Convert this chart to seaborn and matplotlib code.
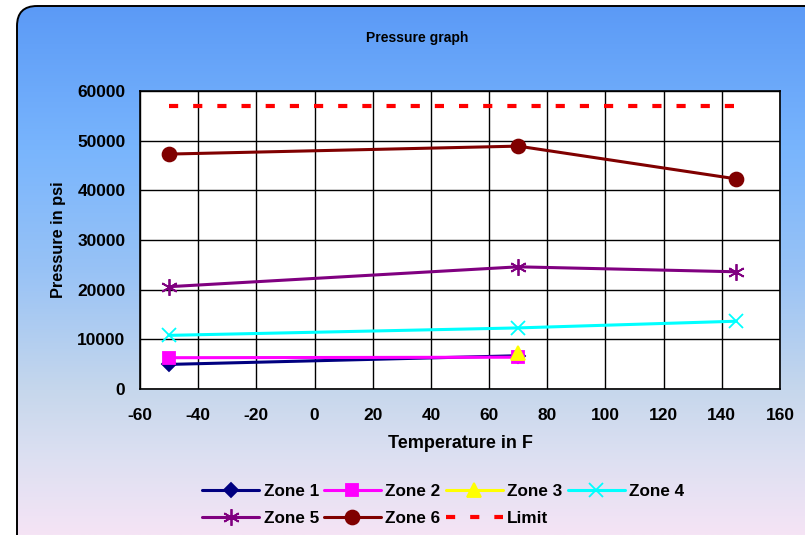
import numpy as np
import pandas as pd
import matplotlib
matplotlib.use('Agg')
from matplotlib import pyplot as plt
from matplotlib.patches import FancyBboxPatch
from matplotlib.colors import LinearSegmentedColormap
import seaborn as sns

# values
zone_1_temp = [-50, 70]
zone_1_psi = [4950, 6700]
zone_2_temp = [-50, 70]
zone_2_psi = [6300, 6400]
zone_3_temp = [70]
zone_3_psi = [7200]
zone_4_temp = [-50, 70, 145]
zone_4_psi = [10800, 12300, 13650]
zone_5_temp = [-50, 70, 145]
zone_5_psi = [20600, 24600, 23600]
zone_6_temp = [-50, 70, 145]
zone_6_psi = [47300, 48900, 42300]
limit_temp = [-50, 145]
limit_psi = [57000, 57000]

x_ticks = [-60, -40, -20, 0, 20, 40, 60, 80, 100, 120, 140, 160]
y_ticks = [0, 10000, 20000, 30000, 40000, 50000, 60000]

sns.set_theme(style='white')
plt.rcParams['font.family'] = ['Liberation Sans', 'DejaVu Sans']
plt.rcParams['axes.unicode_minus'] = False
plt.rcParams['text.color'] = 'black'
plt.rcParams['axes.labelcolor'] = 'black'
plt.rcParams['xtick.color'] = 'black'
plt.rcParams['ytick.color'] = 'black'

fig = plt.figure(figsize=(8.05, 5.35), dpi=100)

# gradient background inside a rounded frame
ax_bg = fig.add_axes([0, 0, 1, 1], zorder=-5)
ax_bg.set_xlim(0, 805)
ax_bg.set_ylim(535, 0)
ax_bg.axis('off')
grad_cmap = LinearSegmentedColormap.from_list('bg', [
    (0.0, '#5a99f6'),
    (0.28, '#79b5fd'),
    (0.5, '#97c2f6'),
    (0.73, '#c6d7ec'),
    (0.86, '#dde0f2'),
    (1.0, '#f5e4f5'),
])
gradient = np.linspace(0, 1, 256).reshape(-1, 1)
img = ax_bg.imshow(gradient, cmap=grad_cmap, aspect='auto', extent=(0, 805, 535, 0))
frame = FancyBboxPatch((17, 6), 900, 600, boxstyle='round,pad=0,rounding_size=20',
                       facecolor='none', edgecolor='black', linewidth=1.4)
ax_bg.add_patch(frame)
img.set_clip_path(frame)

ax = fig.add_axes([140 / 805, 1 - 389 / 535, 640 / 805, 298 / 535])
ax.set_facecolor('white')

series = [
    ('Zone 1', zone_1_temp, zone_1_psi, '#000080', 'D', 7),
    ('Zone 2', zone_2_temp, zone_2_psi, '#ff00ff', 's', 9),
    ('Zone 3', zone_3_temp, zone_3_psi, '#ffff00', '^', 10),
    ('Zone 4', zone_4_temp, zone_4_psi, '#00ffff', 'x', 10),
    ('Zone 5', zone_5_temp, zone_5_psi, '#800080', (6, 2, 0), 12),
    ('Zone 6', zone_6_temp, zone_6_psi, '#800000', 'o', 10),
]
for name, temp, psi, color, marker, msize in series:
    sns.lineplot(x=temp, y=psi, ax=ax, color=color, marker=marker, markersize=msize,
                 markeredgecolor=color, markeredgewidth=1.3, linewidth=2.2, label=name)

sns.lineplot(x=limit_temp, y=limit_psi, ax=ax, color='#ff0000', linewidth=3,
             dashes=False, label='Limit')
ax.lines[-1].set_dashes((2.2, 3.6))

ax.set_xlim(-60, 160)
ax.set_ylim(0, 60000)
ax.set_xticks(x_ticks)
ax.set_yticks(y_ticks)
ax.grid(True, color='black', linewidth=1)
ax.set_axisbelow(True)
for spine in ax.spines.values():
    spine.set_color('black')
    spine.set_linewidth(1.2)
ax.tick_params(axis='both', direction='inout', length=7, width=1, color='black',
               labelsize=12.5)
ax.tick_params(axis='x', pad=10.5)
ax.tick_params(axis='y', pad=7)
for lbl in ax.get_xticklabels() + ax.get_yticklabels():
    lbl.set_fontweight('bold')

ax.set_xlabel('Temperature in F', fontsize=13, fontweight='bold', labelpad=8)
ax.set_ylabel('Pressure in psi', fontsize=11.8, fontweight='bold', labelpad=8)
fig.text(417 / 805, 1 - 38 / 535, 'Pressure graph', ha='center', va='center',
         fontsize=10, fontweight='bold')

handles, labels = ax.get_legend_handles_labels()
ax.get_legend().remove()
order = [0, 4, 1, 5, 2, 6, 3]
fig.legend([handles[i] for i in order], [labels[i] for i in order],
           loc='upper left', bbox_to_anchor=(202 / 805, 1 - 484 / 535), ncol=4,
           frameon=False, prop={'weight': 'bold', 'size': 12.3},
           handlelength=3.35, handletextpad=0.25, columnspacing=0.3,
           labelspacing=0.7, borderaxespad=0, borderpad=0)

fig.savefig('out.png', dpi=100)
